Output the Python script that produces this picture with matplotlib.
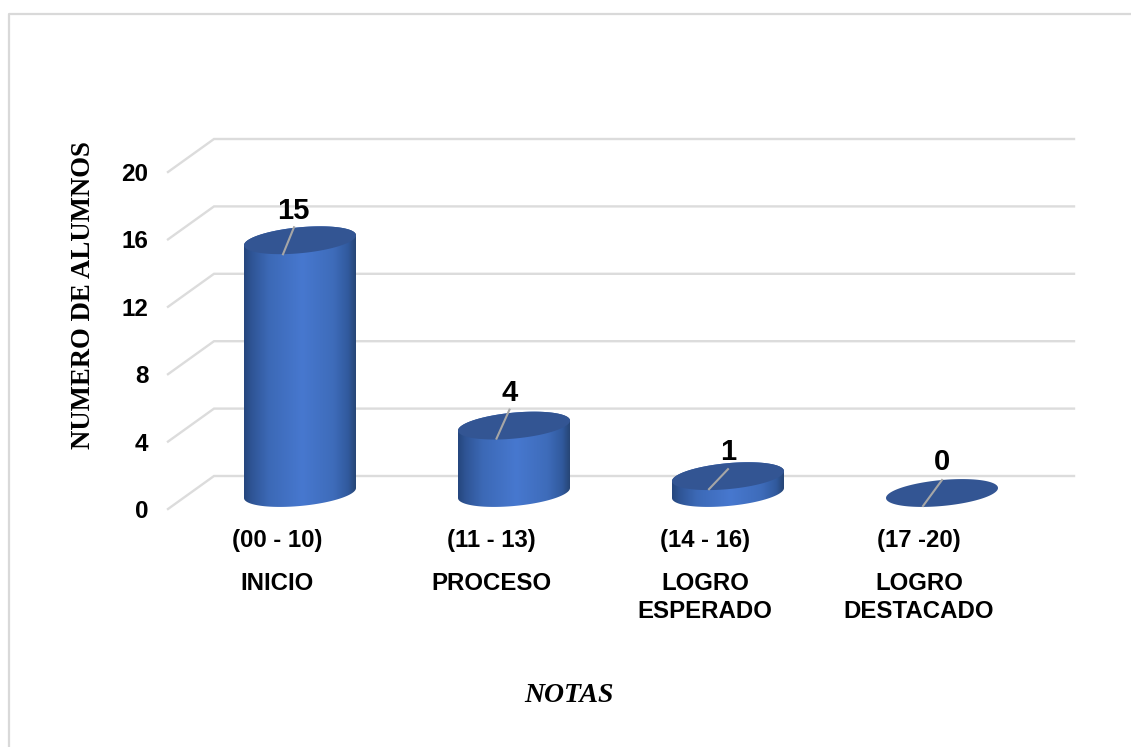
import matplotlib
matplotlib.use("Agg")
import matplotlib.pyplot as plt
import numpy as np
from matplotlib.colors import LinearSegmentedColormap
from matplotlib.lines import Line2D
from matplotlib.patches import Polygon

# data
ranges = ["(00 - 10)", "(11 - 13)", "(14 - 16)", "(17 -20)"]
levels = ["INICIO", "PROCESO", "LOGRO\nESPERADO", "LOGRO\nDESTACADO"]
alumnos = [15, 4, 1, 0]
y_ticks = [0, 4, 8, 12, 16, 20]

# pixel scale of the chart
px_x = 214.0
px_y = 16.85
W, H = 1131, 747
L, R, T, B = 168, 1074, 139, 509

# label / leader offsets from the centre of each top ellipse, in pixels
label_off = [(-7, 29), (-4.5, 33), (0, 24), (0, 31)]
lead_top = [(-6, 13), (-4.5, 16), (0, 7), (0, 13)]
lead_bot = [(-17, -14), (-17.5, -13), (-19, -13), (-19, -13)]

fig = plt.figure(figsize=(W / 100, H / 100), dpi=100, facecolor="white")
ax = fig.add_axes([L / W, (H - B) / H, (R - L) / W, (B - T) / H])
x0 = (L - 277) / px_x
x1 = (R - 277) / px_x
y1 = (B - T) / px_y
ax.set_xlim(x0, x1)
ax.set_ylim(0, y1)

for s in ax.spines.values():
    s.set_visible(False)

# back wall gridlines
gx = 46 / px_x
gy = 33 / px_y
for v in y_ticks:
    ax.plot([x0, x0 + gx, x1], [v, v + gy, v + gy], color="#dcdcdc", lw=1.7,
            clip_on=False, zorder=1, solid_joinstyle="miter")

cmap = LinearSegmentedColormap.from_list("cyl", [
    (0.00, "#25467d"), (0.07, "#2f5596"), (0.22, "#3c69b6"), (0.52, "#4778cf"),
    (0.80, "#3e6cba"), (0.93, "#315a9e"), (1.00, "#274676")])
grad = np.linspace(0, 1, 256).reshape(1, -1)

a = 56 / px_x
b = 13 / px_y
k = 5 / px_y
shift_x = 23 / px_x
shift_y = 16 / px_y

def ring(cx, cy, t):
    return np.column_stack([cx + a * np.cos(t), cy + b * np.sin(t) + k * np.cos(t)])

for i, val in enumerate(alumnos):
    cx = i + shift_x
    cy = val + shift_y
    if val > 0:
        low = ring(cx, shift_y, np.linspace(np.pi, 2 * np.pi, 80))
        up = ring(cx, cy, np.linspace(0, np.pi, 80))
        body = Polygon(np.vstack([low, up]), closed=True, transform=ax.transData,
                       fc="none", ec="none")
        ax.add_patch(body)
        im = ax.imshow(grad, cmap=cmap, aspect="auto", zorder=2,
                       extent=[cx - a, cx + a, shift_y - 2, cy + 2])
        im.set_clip_path(body)
    top = ring(cx, cy, np.linspace(0, 2 * np.pi, 160))
    ax.add_patch(Polygon(top, closed=True, fc="#335593", ec="none", zorder=3))
    ax.plot([cx + lead_top[i][0] / px_x, cx + lead_bot[i][0] / px_x],
            [cy + lead_top[i][1] / px_y, cy + lead_bot[i][1] / px_y],
            color="#a6a6a6", lw=1.5, zorder=4)
    ax.annotate(str(val), (cx, cy), xytext=label_off[i], textcoords="offset pixels",
                ha="center", va="center", fontsize=21, fontweight="bold",
                family="Liberation Sans", color="black", zorder=5)

ax.set_xlim(x0, x1)
ax.set_ylim(0, y1)

# axes
ax.set_yticks(y_ticks)
ax.set_yticklabels(y_ticks, fontsize=17.5, fontweight="bold", family="Liberation Sans")
ax.tick_params(axis="y", length=0, pad=14)
ax.xaxis.remove_overlapping_locs = False
ax.set_xticks(range(4))
ax.set_xticklabels(ranges, fontsize=17.2, fontweight="bold", family="Liberation Sans")
ax.set_xticks(range(4), minor=True)
ax.set_xticklabels(levels, minor=True, fontsize=17.3, fontweight="bold",
                   family="Liberation Sans", linespacing=1.33)
ax.tick_params(axis="x", which="major", length=0, pad=14.5)
ax.tick_params(axis="x", which="minor", length=0, pad=45)

ax.set_ylabel("NUMERO DE ALUMNOS", fontsize=19.3, fontweight="bold", family="Liberation Serif", va="center")
ax.yaxis.set_label_coords((84 - L) / (R - L), (B - 295) / (B - T))
ax.set_xlabel("NOTAS", fontsize=20, style="italic", fontweight="bold", family="Liberation Serif", va="center")
ax.xaxis.set_label_coords((569 - L) / (R - L), -(695 - B) / (B - T))

# chart frame, cut at the bottom and right of the picture
fig.add_artist(Line2D([8.5 / W, 8.5 / W, 1], [0, 1 - 13.5 / H, 1 - 13.5 / H],
                      color="#d9d9d9", lw=1.6))

fig.savefig("out.png", dpi=100)
